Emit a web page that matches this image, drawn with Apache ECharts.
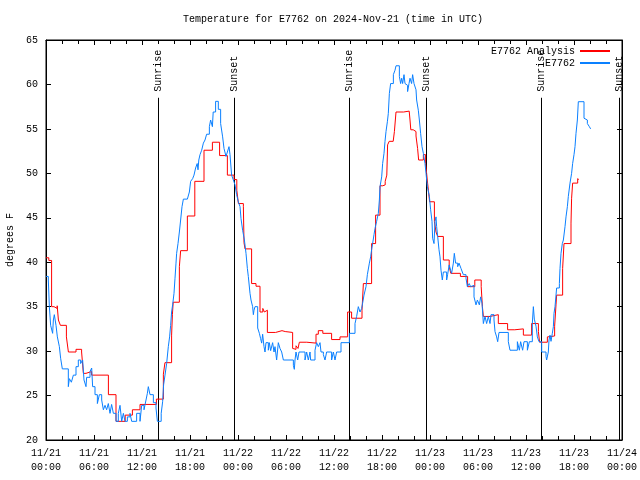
<!DOCTYPE html>
<html><head><meta charset="utf-8">
<script src="https://cdn.jsdelivr.net/npm/echarts@6/dist/echarts.min.js"></script>
<style>html,body{margin:0;padding:0;background:#fff}#c{width:640px;height:480px}</style>
</head><body><div id="c"></div>
<script>
const FONT = '"Liberation Mono","DejaVu Sans Mono",monospace';
const titleText = 'Temperature for E7762 on 2024-Nov-21 (time in UTC)';
const seriesNames = ['E7762 Analysis', 'E7762'];
// x = hours since 2024-11-21 00:00 UTC, y = degrees F
const analysisData = [[0,40.5],[0.35,40.2],[0.7,35.0],[1.0,34.8],[1.4,35.1],[1.55,33.5],[1.8,32.9],[2.55,31.6],[2.8,29.9],[3.75,30.2],[4.45,29.9],[4.67,27.5],[5.0,27.7],[5.7,27.3],[7.8,25.1],[8.75,22.1],[9.9,22.8],[10.8,23.4],[11.75,24.0],[13.8,24.6],[14.67,27.4],[14.87,28.7],[15.7,31.8],[15.8,34.1],[15.9,35.5],[16.67,39.5],[16.83,41.3],[17.67,45.2],[18.6,49.1],[19.75,52.6],[20.8,53.5],[21.7,52.0],[22.67,49.8],[23.5,49.3],[23.85,48.1],[24.05,46.6],[24.67,46.3],[24.75,42.2],[24.875,41.5],[25.7,37.6],[26.25,37.3],[26.75,34.4],[27.1,34.8],[27.3,34.4],[27.5,34.6],[27.67,32.1],[28.7,32.3],[29.5,32.2],[29.9,32.1],[30.83,30.3],[31.0,30.2],[31.25,30.6],[31.5,30.3],[31.67,31.0],[32.6,30.9],[33.75,31.9],[34.04,32.3],[34.6,32.0],[35.7,31.3],[36.75,31.6],[37.7,34.4],[38.2,33.7],[39.5,34.6],[39.67,37.6],[40.7,42.1],[41.2,45.3],[41.75,48.6],[42.1,48.7],[42.4,49.1],[42.6,49.8],[42.7,53.2],[42.9,53.6],[43.4,53.8],[43.55,54.7],[43.75,56.9],[44.7,57.0],[45.4,57.1],[45.5,56.0],[45.6,54.9],[45.9,54.7],[46.25,54.2],[46.45,52.8],[46.58,51.5],[47.17,52.1],[47.45,51.1],[47.58,50.0],[47.7,48.9],[47.8,48.1],[47.95,46.8],[48.55,44.6],[48.75,43.4],[48.96,42.9],[49.67,40.25],[50.4,39.5],[50.6,38.75],[51.8,38.4],[52.7,37.25],[53.6,38.0],[54.4,37.25],[54.55,35.0],[54.67,33.9],[55.5,34.1],[56.54,33.1],[57.7,32.4],[58.6,32.5],[59.67,31.8],[60.7,33.1],[61.55,32.2],[61.7,31.0],[62.67,31.6],[62.875,31.7],[63.58,32.8],[63.75,35.2],[63.83,36.3],[64.58,39.3],[64.75,42.1],[65.625,44.4],[65.7,47.2],[65.83,48.9],[66.46,49.4],[66.6,49.3]];
const obsData = [[0,38.4],[0.29,38.0],[0.42,35.0],[0.58,32.9],[0.83,32.0],[0.92,33.5],[1.04,34.1],[1.25,32.9],[1.42,31.6],[1.67,30.5],[1.83,29.2],[2.04,28.0],[2.79,26.0],[2.92,26.9],[3.17,26.5],[3.42,27.3],[3.75,28.25],[4.04,29.0],[4.33,28.6],[4.58,29.0],[4.75,26.75],[5.0,26.0],[5.08,27.05],[5.5,27.7],[5.71,28.1],[5.83,26.0],[6.125,25.1],[6.42,24.1],[6.67,25.1],[6.96,24.5],[7.17,23.4],[7.375,23.9],[7.58,23.4],[7.79,24.1],[8.0,23.0],[8.2,24.0],[8.42,23.0],[8.75,22.1],[9.04,23.0],[9.25,23.9],[9.46,22.1],[9.67,23.0],[9.875,22.1],[10.17,22.6],[10.5,23.0],[10.71,22.1],[11.33,23.0],[11.75,22.1],[11.96,23.9],[12.25,23.4],[12.5,24.5],[12.67,25.25],[12.79,26.0],[13.0,25.1],[13.42,24.2],[13.75,23.6],[13.92,22.1],[14.4,23.0],[14.58,24.3],[14.7,26.2],[14.875,27.3],[15.08,28.6],[15.29,30.5],[15.45,31.6],[15.58,32.9],[15.7,34.4],[15.83,35.2],[16.0,36.5],[16.125,38.2],[16.25,39.9],[16.33,41.0],[16.5,42.1],[16.67,43.4],[16.83,44.75],[17.0,46.25],[17.17,47.1],[17.67,47.3],[17.92,47.9],[18.08,49.1],[18.33,49.4],[18.5,49.8],[18.7,50.6],[18.9,51.1],[19.0,50.4],[19.1,51.5],[19.25,52.1],[19.46,52.6],[19.67,53.4],[19.875,53.75],[20.08,54.4],[20.42,55.25],[20.58,56.0],[20.8,55.25],[20.9,56.9],[21.2,58.1],[21.54,57.2],[21.83,55.6],[22.08,54.1],[22.25,52.8],[22.5,51.9],[22.67,52.4],[22.875,53.0],[23.0,52.1],[23.2,49.8],[23.42,49.25],[23.625,48.7],[23.83,47.6],[24.04,46.8],[24.25,46.25],[24.375,44.9],[24.58,43.6],[24.8,42.5],[25.0,41.0],[25.17,39.3],[25.29,38.4],[25.5,36.5],[25.625,35.75],[25.83,35.0],[25.92,34.1],[26.0,34.6],[26.125,35.0],[26.46,32.6],[26.67,32.0],[26.83,31.4],[26.96,30.9],[27.08,31.9],[27.25,30.5],[27.375,29.9],[27.5,30.95],[27.79,30.1],[27.92,30.95],[28.08,30.05],[28.33,30.95],[28.5,29.9],[28.625,30.5],[28.83,29.0],[29.04,30.95],[29.25,30.3],[29.46,29.9],[29.67,29.0],[30.92,28.4],[31.04,27.95],[31.125,29.0],[31.25,29.9],[31.46,29.0],[31.625,29.9],[32.375,29.0],[32.58,29.9],[32.79,29.0],[33.0,29.9],[33.08,29.0],[33.625,30.1],[33.83,30.95],[34.04,30.5],[34.25,30.95],[34.375,29.9],[34.67,29.6],[34.875,29.0],[35.08,29.9],[35.7,29.0],[35.92,29.9],[36.125,29.0],[36.33,29.9],[36.875,30.95],[37.92,32.0],[38.625,33.1],[38.83,33.9],[39.04,35.0],[39.25,34.4],[39.46,34.8],[39.58,35.4],[39.75,36.3],[40.0,37.25],[40.17,38.6],[40.42,39.9],[40.58,40.6],[40.7,41.4],[40.83,42.1],[41.0,43.1],[41.125,43.8],[41.33,44.6],[41.54,45.5],[41.67,47.0],[41.75,48.5],[41.96,49.6],[42.08,51.1],[42.25,52.25],[42.375,53.6],[42.5,54.7],[42.67,55.8],[42.79,56.75],[42.92,59.0],[43.08,60.1],[43.42,61.1],[43.625,61.6],[43.75,62.1],[44.17,60.9],[44.33,60.1],[44.46,60.7],[44.58,60.1],[44.75,61.1],[44.875,60.1],[45.08,59.9],[45.2,59.2],[45.375,60.1],[45.5,60.7],[45.7,60.1],[45.83,61.1],[46.0,60.1],[46.25,59.4],[46.33,58.25],[46.54,57.1],[46.67,56.0],[46.83,54.5],[47.0,53.0],[47.17,52.25],[47.375,51.1],[47.5,50.0],[47.67,48.5],[47.92,47.4],[48.08,45.9],[48.125,45.7],[48.25,44.6],[48.33,42.7],[48.5,42.1],[48.625,44.6],[48.75,45.1],[48.83,44.0],[48.96,42.9],[49.125,41.4],[49.25,40.6],[49.375,39.1],[49.54,38.0],[49.67,38.9],[50.08,38.0],[50.2,38.6],[50.4,39.7],[50.58,39.1],[50.7,38.75],[50.92,39.9],[51.04,41.0],[51.2,39.9],[51.46,39.5],[51.625,39.9],[51.875,39.3],[52.04,38.9],[52.17,38.6],[52.5,38.2],[52.67,37.25],[52.9,37.6],[53.08,37.25],[53.29,37.4],[53.5,36.1],[53.75,35.2],[53.92,35.75],[54.17,35.2],[54.33,36.1],[54.5,35.4],[54.67,33.1],[54.875,33.9],[55.08,33.1],[55.29,33.9],[55.5,33.1],[55.625,34.1],[56.0,33.5],[56.125,32.2],[56.33,31.6],[56.46,31.06],[56.625,32.1],[57.79,31.06],[58.0,30.1],[58.92,31.06],[59.17,30.1],[59.33,31.06],[59.58,30.1],[59.75,31.06],[60.17,30.1],[60.42,31.06],[60.79,33.1],[60.92,35.0],[61.04,33.6],[61.25,32.8],[61.42,31.6],[61.625,31.06],[61.96,29.9],[62.5,29.4],[62.58,29.0],[62.79,29.9],[62.875,31.25],[63.0,31.8],[63.125,31.1],[63.29,32.0],[63.42,32.75],[63.5,34.25],[63.625,35.0],[63.83,37.1],[64.17,37.6],[64.25,39.3],[64.375,41.0],[64.54,42.1],[64.67,42.5],[64.875,44.0],[65.0,45.1],[65.17,46.25],[65.29,47.4],[65.5,48.9],[65.625,49.1],[65.7,50.0],[65.83,51.1],[66.0,52.1],[66.125,53.0],[66.25,54.5],[66.42,56.0],[66.54,58.06],[67.25,56.2],[67.5,56.0],[67.67,55.6],[67.92,55.25],[68.08,55.0]];
const sunTimes = [14.0, 23.5, 37.9, 47.45, 61.92, 71.6];
const sunLabels = ['Sunrise','Sunset','Sunrise','Sunset','Sunrise','Sunset'];
const xMin = 0, xMax = 72, xStep = 6;
const yMin = 20, yMax = 65, yStep = 5;
const startDay = 21, monthLabel = '11';

function xLabel(h){
  const d = startDay + Math.floor(h/24);
  const hh = h % 24;
  return monthLabel + '/' + d + '\n' + String(hh).padStart(2,'0') + ':00';
}
const SUN_TOP = 58.5;
const chart = echarts.init(document.getElementById('c'), null, {renderer:'canvas'});
const tickStyle = {color:'#000', width:1};
const baseX = {type:'value', min:xMin, max:xMax, interval:xStep,
  axisLine:{show:true, onZero:false, lineStyle:{color:'#000'}},
  axisTick:{show:true, inside:true, length:5, lineStyle:tickStyle},
  minorTick:{show:true, splitNumber:3, length:4, lineStyle:tickStyle},
  splitLine:{show:false}, minorSplitLine:{show:false}};
const baseY = {type:'value', min:yMin, max:yMax, interval:yStep,
  axisLine:{show:true, onZero:false, lineStyle:{color:'#000'}},
  axisTick:{show:true, inside:true, length:5, lineStyle:tickStyle},
  splitLine:{show:false}};
const option = {
  animation:false,
  backgroundColor:'#fff',
  title:{text:titleText, left:183, top:14, padding:0,
    textStyle:{fontFamily:FONT, fontSize:10, fontWeight:'normal', color:'#000'}},
  legend:{orient:'vertical', right:30, top:46, align:'right', padding:0,
    itemWidth:30, itemHeight:2, itemGap:2, icon:'rect',
    textStyle:{fontFamily:FONT, fontSize:10, color:'#000'},
    data:seriesNames},
  grid:{left:46, right:18, top:40, bottom:40, show:true, borderColor:'#000', borderWidth:1,
    backgroundColor:'transparent', containLabel:false, outerBoundsMode:'none'},
  xAxis:[
    Object.assign({}, baseX, {position:'bottom',
      axisLabel:{formatter:xLabel, color:'#000', fontFamily:FONT, fontSize:10, margin:6, lineHeight:14, showMinLabel:true, showMaxLabel:true}}),
    Object.assign({}, baseX, {position:'top', axisLabel:{show:false}})
  ],
  yAxis:[
    Object.assign({}, baseY, {position:'left', name:'degrees F', nameLocation:'middle', nameGap:30,
      nameTextStyle:{fontFamily:FONT, fontSize:10, color:'#000'},
      axisLabel:{color:'#000', fontFamily:FONT, fontSize:10, margin:8}}),
    Object.assign({}, baseY, {position:'right', axisLabel:{show:false}})
  ],
  series:[
    {type:'custom', name:'sun', z:1, silent:true,
     data: sunTimes.map(t => [t, yMin]),
     encode:{x:0, y:1},
     renderItem:function(params, api){
       const t = api.value(0);
       const p0 = api.coord([t, yMin]);
       const p1 = api.coord([t, SUN_TOP]);
       const x = Math.round(p0[0]) + 0.5;
       return {type:'group', children:[
         {type:'line', shape:{x1:x, y1:p0[1], x2:x, y2:p1[1]}, style:{stroke:'#000', lineWidth:1}},
         {type:'text', x:x, y:p1[1]-6, rotation:Math.PI/2,
          style:{text:sunLabels[params.dataIndex], fill:'#000', font:'10px '+FONT, align:'left', verticalAlign:'middle'}}
       ]};
     }},
    {type:'line', name:seriesNames[0], data:analysisData, step:'end', symbol:'none', z:3,
     color:'#ff0000', lineStyle:{color:'#ff0000', width:1}},
    {type:'line', name:seriesNames[1], data:obsData, step:'end', symbol:'none', z:4,
     color:'#0a80ff', lineStyle:{color:'#0a80ff', width:1}}
  ]
};
chart.setOption(option);
</script></body></html>
